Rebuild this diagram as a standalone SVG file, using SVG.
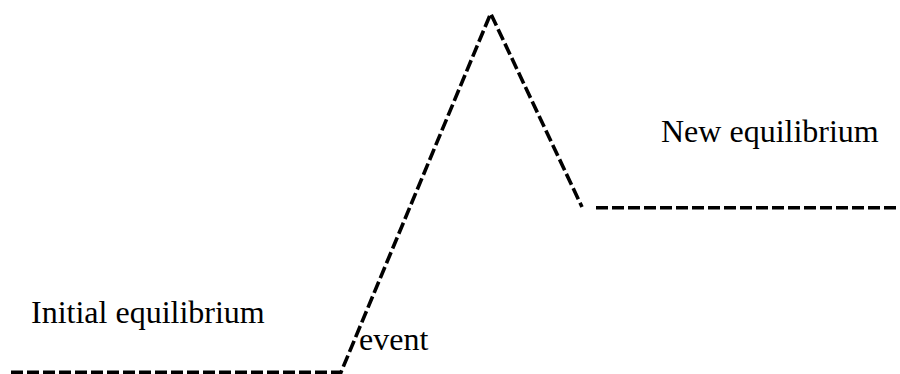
<svg xmlns="http://www.w3.org/2000/svg" width="900" height="374" viewBox="0 0 900 374">
<style>
.dash{fill:none;stroke:#000;stroke-width:3.6;stroke-dasharray:12 4;stroke-linejoin:miter}
.lbl{font-family:"Liberation Serif","Times New Roman",serif;font-size:32px;fill:#000}
</style>
<rect width="900" height="374" fill="#fff"/>
<g id="connectors">
<polyline class="dash" points="11,372.2 341,372.2 490.7,13.5 582,207"/>
<line class="dash" x1="596" y1="207.8" x2="897" y2="207.8"/>
</g>
<g id="initial"><text class="lbl" x="31" y="322.5">Initial equilibrium</text></g>
<g id="new"><text class="lbl" x="661" y="141.5">New equilibrium</text></g>
<g id="event"><text class="lbl" x="359" y="350">event</text></g>
</svg>
